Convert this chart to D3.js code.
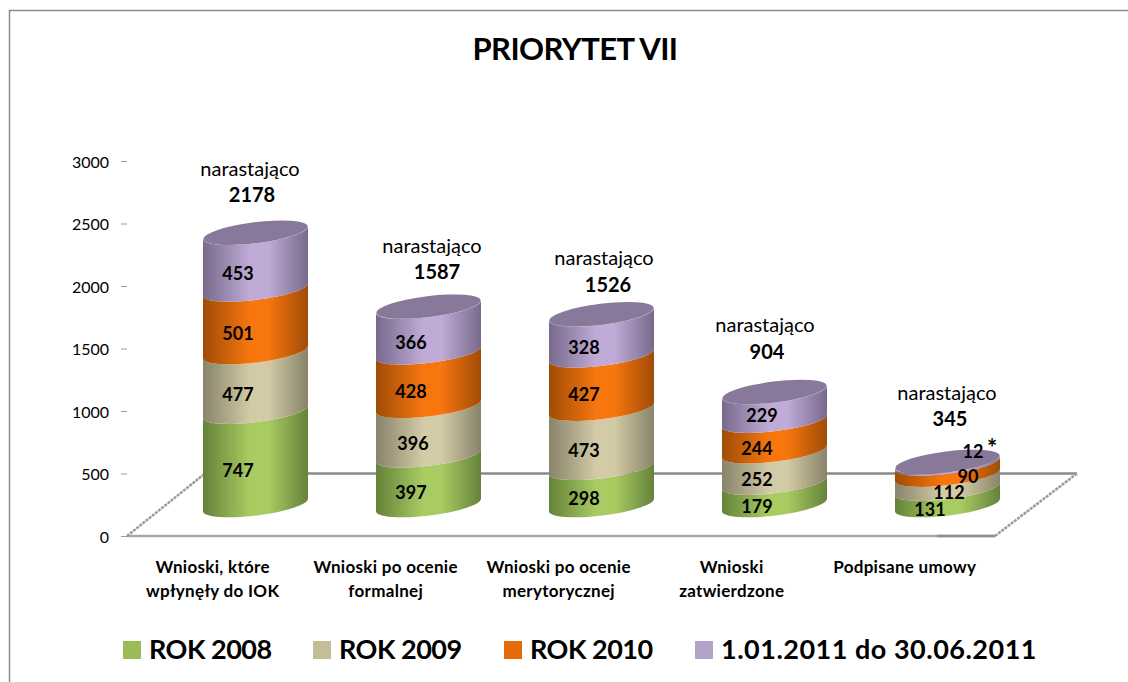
<!DOCTYPE html>
<html>
<head>
<meta charset="utf-8">
<script src="https://cdn.jsdelivr.net/npm/d3@7"></script>
<style>
  body { margin: 0; background: #fff; }
  text { font-family: Lato, "Open Sans", sans-serif; fill: #000; }
</style>
</head>
<body>
<div id="chart"></div>
<script>
var categories = [["Wnioski, które", "wpłynęły do IOK"], ["Wnioski po ocenie", "formalnej"], ["Wnioski po ocenie", "merytorycznej"], ["Wnioski", "zatwierdzone"], ["Podpisane umowy"]];
var seriesNames = ["ROK 2008", "ROK 2009", "ROK 2010", "1.01.2011 do 30.06.2011"];
var rok2008 = [747, 397, 298, 179, 131];
var rok2009 = [477, 396, 473, 252, 112];
var rok2010 = [501, 428, 427, 244, 90];
var rok2011 = [453, 366, 328, 229, 12];
var totals = [2178, 1587, 1526, 904, 345];
var yTicks = [0, 500, 1000, 1500, 2000, 2500, 3000];

// colours: edge, middle, legend
var edgeColors = ["#65823a", "#88836a", "#a04c06", "#77698c"];
var midColors = ["#a9cc62", "#d3cba6", "#f7760e", "#c0abd6"];
var legendColors = ["#9bbb59", "#c4bd97", "#e36c09", "#b3a2c7"];

var svg = d3.select("#chart").append("svg")
    .attr("width", 1128)
    .attr("height", 682)
    .style("display", "block");

var y = d3.scaleLinear().domain([0, 3000]).range([536, 161]);
var x = d3.scaleBand().domain(d3.range(5)).range([169, 1034]).padding(0);

// frame, open on the right
svg.append("path")
    .attr("d", "M9.5,682V10.5H1128")
    .attr("fill", "none")
    .attr("stroke", "#8c8c8c")
    .attr("stroke-width", 1.5);

svg.append("text")
    .attr("x", 575).attr("y", 60)
    .attr("text-anchor", "middle")
    .attr("font-size", 31).attr("font-weight", "bold")
    .attr("letter-spacing", -0.6)
    .text("PRIORYTET VII");

// y axis
var yAxis = d3.axisLeft(y).tickValues(yTicks).tickSize(6).tickPadding(12).tickFormat(d3.format("d"));
var axisG = svg.append("g").attr("transform", "translate(127,1)").call(yAxis);
axisG.select(".domain").remove();
axisG.selectAll("line").attr("stroke", "#999").attr("transform", "translate(0,-1)");
axisG.selectAll("text").attr("font-size", 16).attr("font-family", "Lato");

// floor
svg.append("line").attr("x1", 205).attr("x2", 1077).attr("y1", y(500)).attr("y2", y(500))
    .attr("stroke", "#8a8a8a").attr("stroke-width", 2.5);
svg.append("line").attr("x1", 127).attr("x2", 995).attr("y1", y(0)).attr("y2", y(0))
    .attr("stroke", "#a6a6a6").attr("stroke-width", 2.5);
svg.append("line").attr("x1", 937).attr("x2", 995).attr("y1", y(0)).attr("y2", y(0))
    .attr("stroke", "#8f8f8f").attr("stroke-width", 2.5);
[[127, 205], [995, 1077]].forEach(function(p) {
    svg.append("line").attr("x1", p[0]).attr("x2", p[1]).attr("y1", y(0)).attr("y2", y(500))
        .attr("stroke", "#9a9a9a").attr("stroke-width", 2.5).attr("stroke-dasharray", "3 1");
});

// gradients
var defs = svg.append("defs");
midColors.forEach(function(c, i) {
    var g = defs.append("linearGradient").attr("id", "grad" + i);
    g.append("stop").attr("offset", "0%").attr("stop-color", edgeColors[i]);
    g.append("stop").attr("offset", "45%").attr("stop-color", c);
    g.append("stop").attr("offset", "62%").attr("stop-color", c);
    g.append("stop").attr("offset", "100%").attr("stop-color", edgeColors[i]);
});

var rx = 52.5, ry = 10.5, tilt = -7;
var lift = 31, skew = 6.5;   // cylinders stand in the middle of the floor

function segment(cx, v0, v1) {
    var yb = y(v0) - lift, yt = y(v1) - lift;
    var arc = " A" + rx + "," + ry + " " + tilt + " 0 ";
    return "M" + (cx - rx) + "," + (yt + skew)
        + "L" + (cx - rx) + "," + (yb + skew)
        + arc + "0 " + (cx + rx) + "," + (yb - skew)
        + "L" + (cx + rx) + "," + (yt - skew)
        + arc + "1 " + (cx - rx) + "," + (yt + skew) + "Z";
}

var series = [rok2008, rok2009, rok2010, rok2011];
var cx = function(i) { return x(i) + x.bandwidth() / 2; };

// label nudges from the middle of a segment
var labelDx = [[-17.5, -17.5, -17.5, -17.5], [-17.5, -15.5, -17.5, -17.5], [-17.5, -17.5, -17.5, -17.5], [-17.5, -17.5, -17.5, -12.5], [-17.5, 1.5, 20.5, 25.5]];
var labelDy = [[0, 0, 0, 0], [0, 0, 0, 0], [0, 0, 0, 0], [0, 0, 0, -3], [0, -2, -5, -24]];
var noteDx = [-5.5, 3.5, 2.5, -9.5, -0.5];
var totalDx = [-3.5, 8.5, 6.5, -7.5, 2.5];
var noteDy = [2, 5, 10, -1, -3];

categories.forEach(function(cat, i) {
    var base = 0;
    var g = svg.append("g");
    series.forEach(function(s, k) {
        var top = base + s[i];
        g.append("path")
            .attr("d", segment(cx(i), base, top))
            .attr("fill", "url(#grad" + k + ")");
        base = top;
    });
    // top of cylinder
    g.append("ellipse")
        .attr("cx", 0).attr("cy", 0)
        .attr("rx", rx).attr("ry", ry)
        .attr("transform", "translate(" + cx(i) + "," + (y(base) - lift) + ") rotate(" + tilt + ")")
        .attr("fill", "#88789a");

    base = 0;
    series.forEach(function(s, k) {
        g.append("text")
            .attr("x", cx(i) + labelDx[i][k])
            .attr("y", y(base + s[i] / 2) - lift + 13 + labelDy[i][k] + 6)
            .attr("text-anchor", "middle")
            .attr("font-size", 18).attr("font-weight", "bold")
            .text(s[i]);
        base += s[i];
    });

    // cumulative note
    var noteY = y(totals[i]) - lift - 59 + noteDy[i];
    svg.append("text")
        .attr("x", cx(i) + noteDx[i]).attr("y", noteY)
        .attr("text-anchor", "middle").attr("font-size", 20)
        .text("narastająco");
    svg.append("text")
        .attr("x", cx(i) + totalDx[i]).attr("y", noteY + 26.5)
        .attr("text-anchor", "middle").attr("font-size", 20).attr("font-weight", "bold")
        .text(totals[i]);

    // category labels
    cat.forEach(function(line, n) {
        svg.append("text")
            .attr("x", cx(i) - 42.8).attr("y", 573 + n * 24)
            .attr("text-anchor", "middle").attr("font-size", 17).attr("font-weight", "bold")
            .attr("letter-spacing", 0.3)
            .text(line);
    });
});

svg.append("text").attr("x", 992).attr("y", 457)
    .attr("text-anchor", "middle").attr("font-size", 24).attr("font-weight", "bold").text("*");

// legend
var legendX = [123, 313, 504, 695];
var legendSpacing = [-0.5, -0.5, -0.5, 0.5];
seriesNames.forEach(function(name, i) {
    svg.append("rect")
        .attr("x", legendX[i]).attr("y", 641)
        .attr("width", 18).attr("height", 18)
        .attr("fill", legendColors[i]);
    svg.append("text")
        .attr("x", legendX[i] + 26).attr("y", 659)
        .attr("font-size", 27).attr("font-weight", "bold")
        .attr("letter-spacing", legendSpacing[i])
        .text(name);
});
</script>
</body>
</html>
